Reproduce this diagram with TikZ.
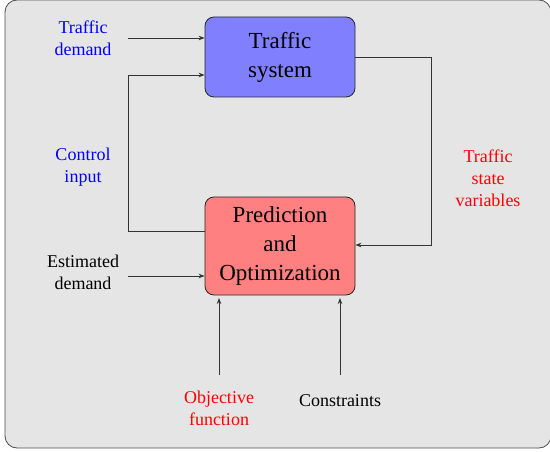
\documentclass[tikz,border=0pt]{standalone}
\usepackage{fontspec}
\setmainfont{Liberation Serif}
\usetikzlibrary{arrows.meta}
\begin{document}
\begin{tikzpicture}[x=1pt,y=-1pt,
  blockbox/.style={draw=black!85, line width=0.8pt, rounded corners=9pt, minimum width=150pt, align=center, font=\fontsize{23}{29}\selectfont, inner sep=0pt},
  lbl/.style={align=center, font=\fontsize{18}{22}\selectfont, inner sep=0pt},
  conn/.style={draw=black!80, line width=0.8pt, -{Stealth[length=6pt,width=4.5pt]}}]
\useasboundingbox (0,0) rectangle (550,452);
\fill[gray!20, draw=black!70, line width=0.8pt, rounded corners=12pt] (5,0) rectangle (551,448);
\node[blockbox, fill=blue!50, minimum height=80pt] (ts) at (280,57) {Traffic\\system};
\node[blockbox, fill=red!50, minimum height=98pt] (po) at (280,246) {Prediction\\and\\Optimization};
\node[lbl, text=blue] (td) at (83,38) {Traffic\\demand};
\node[lbl, text=blue] (ci) at (83,167) {Control\\input};
\node[lbl, text=red] (tsv) at (488,178) {Traffic\\state\\variables};
\node[lbl] (ed) at (83,272) {Estimated\\demand};
\node[lbl, text=red] (of) at (219,408) {Objective\\function};
\node[lbl] (cs) at (340,401) {Constraints};
\coordinate (tdS) at (128,38);
\coordinate (edS) at (128,276);
\coordinate (ofS) at (219,375);
\coordinate (csS) at (340,375);
\coordinate (ofE) at (219,298);
\coordinate (csE) at (340,298);
\draw[conn] (tdS) -- (tdS -| ts.west);
\draw[conn] (edS) -- (edS -| po.west);
\draw[conn] (po.west |- 0,231) -- (128,231) -- (128,75) -- (ts.west |- 0,75);
\draw[conn] (ts.east |- 0,57) -- (431,57) -- (431,245) -- (po.east |- 0,245);
\draw[conn] (ofS) -- (ofE);
\draw[conn] (csS) -- (csE);
\end{tikzpicture}
\end{document}
